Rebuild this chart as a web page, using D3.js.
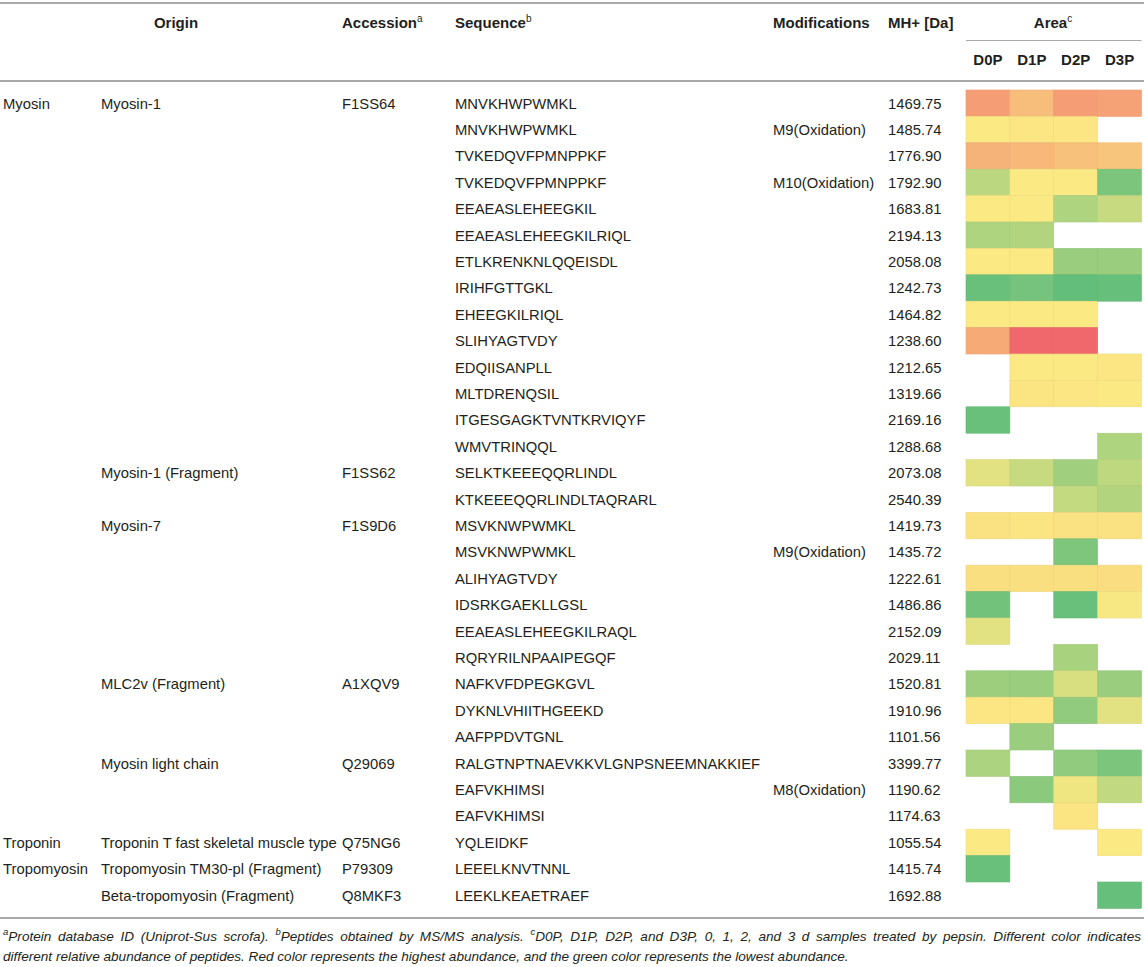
<!DOCTYPE html>
<html>
<head>
<meta charset="utf-8">
<script src="https://cdn.jsdelivr.net/npm/d3@7"></script>
<style>
  body { margin: 0; background: #fff; }
  .tbl text { font-family: "Liberation Sans", Arial, sans-serif; fill: #231f20; }
  .note { position: absolute; left: 3px; width: 1138px;
    font-family: "Liberation Sans", Arial, sans-serif; font-style: italic;
    font-size: 13.6px; line-height: 20px; color: #231f20; white-space: nowrap; }
  .note.full { text-align: justify; text-align-last: justify; }
  .note sup { font-size: 9.5px; line-height: 0; }
</style>
</head>
<body>
<script>
// one entry per peptide row, "" where the cell is empty
const groups = ["Myosin", "", "", "", "", "", "", "", "", "", "", "", "", "", "", "", "", "", "", "", "", "", "", "", "", "", "", "", "Troponin", "Tropomyosin", ""];
const proteins = ["Myosin-1", "", "", "", "", "", "", "", "", "", "", "", "", "", "Myosin-1 (Fragment)", "", "Myosin-7", "", "", "", "", "", "MLC2v (Fragment)", "", "", "Myosin light chain", "", "", "Troponin T fast skeletal muscle type", "Tropomyosin TM30-pl (Fragment)", "Beta-tropomyosin (Fragment)"];
const accessions = ["F1SS64", "", "", "", "", "", "", "", "", "", "", "", "", "", "F1SS62", "", "F1S9D6", "", "", "", "", "", "A1XQV9", "", "", "Q29069", "", "", "Q75NG6", "P79309", "Q8MKF3"];
const sequences = ["MNVKHWPWMKL", "MNVKHWPWMKL", "TVKEDQVFPMNPPKF", "TVKEDQVFPMNPPKF", "EEAEASLEHEEGKIL", "EEAEASLEHEEGKILRIQL", "ETLKRENKNLQQEISDL", "IRIHFGTTGKL", "EHEEGKILRIQL", "SLIHYAGTVDY", "EDQIISANPLL", "MLTDRENQSIL", "ITGESGAGKTVNTKRVIQYF", "WMVTRINQQL", "SELKTKEEEQQRLINDL", "KTKEEEQQRLINDLTAQRARL", "MSVKNWPWMKL", "MSVKNWPWMKL", "ALIHYAGTVDY", "IDSRKGAEKLLGSL", "EEAEASLEHEEGKILRAQL", "RQRYRILNPAAIPEGQF", "NAFKVFDPEGKGVL", "DYKNLVHIITHGEEKD", "AAFPPDVTGNL", "RALGTNPTNAEVKKVLGNPSNEEMNAKKIEF", "EAFVKHIMSI", "EAFVKHIMSI", "YQLEIDKF", "LEEELKNVTNNL", "LEEKLKEAETRAEF"];
const modifications = ["", "M9(Oxidation)", "", "M10(Oxidation)", "", "", "", "", "", "", "", "", "", "", "", "", "", "M9(Oxidation)", "", "", "", "", "", "", "", "", "M8(Oxidation)", "", "", "", ""];
const masses = ["1469.75", "1485.74", "1776.90", "1792.90", "1683.81", "2194.13", "2058.08", "1242.73", "1464.82", "1238.60", "1212.65", "1319.66", "2169.16", "1288.68", "2073.08", "2540.39", "1419.73", "1435.72", "1222.61", "1486.86", "2152.09", "2029.11", "1520.81", "1910.96", "1101.56", "3399.77", "1190.62", "1174.63", "1055.54", "1415.74", "1692.88"];

// relative abundance (0 = lowest/green, 1 = highest/red), null = not found
const samples = ["D0P", "D1P", "D2P", "D3P"];
const d0p = [0.79, 0.50, 0.71, 0.29, 0.50, 0.25, 0.50, 0.02, 0.50, 0.74, null, null, 0.02, null, 0.42, null, 0.53, null, 0.54, 0.05, 0.42, null, 0.19, 0.51, null, 0.24, null, null, 0.50, 0.02, null];
const d1p = [0.67, 0.51, 0.69, 0.50, 0.50, 0.26, 0.50, 0.06, 0.50, 1.00, 0.50, 0.52, null, null, 0.33, null, 0.52, null, 0.54, null, null, null, 0.18, 0.51, 0.18, null, 0.13, null, null, null, null];
const d2p = [0.79, 0.51, 0.66, 0.50, 0.25, null, 0.18, 0.00, 0.50, 1.00, 0.50, 0.51, null, null, 0.20, 0.32, 0.53, 0.09, 0.54, 0.02, null, 0.23, 0.38, 0.15, null, 0.15, 0.46, 0.52, null, null, null];
const d3p = [0.77, null, 0.64, 0.08, 0.33, null, 0.18, 0.01, null, null, 0.51, 0.50, null, 0.25, 0.30, 0.26, 0.53, null, 0.55, 0.49, null, null, 0.18, 0.42, null, 0.08, 0.31, null, 0.50, null, 0.01];

const width = 1144, height = 967;
const areas = [d0p, d1p, d2p, d3p];

const svg = d3.create("svg")
    .attr("width", width)
    .attr("height", height)
    .attr("class", "tbl")
    .style("position", "absolute").style("left", 0).style("top", 0);

const y = d3.scaleBand().domain(d3.range(sequences.length)).range([90, 90 + 26.4 * sequences.length]);
const xs = d3.scaleBand().domain(samples).range([966, 1141.5]);
const color = d3.scaleLinear().domain([0, 0.5, 1]).range(["#63be7b", "#fbe983", "#f0686b"]);

// rules
const rule = (x1, x2, yy, w) => svg.append("line")
    .attr("x1", x1).attr("x2", x2).attr("y1", yy).attr("y2", yy)
    .attr("stroke", "#a9a9a9").attr("stroke-width", w);
rule(0, width, 3, 2);
rule(0, width, 81, 2);
rule(966, 1141.5, 40.5, 1.2);
rule(0, width, 918, 2);

// header
const head = svg.append("g").attr("font-weight", "bold").attr("font-size", 15);
const hcell = (x, txt, sup, anchor) => {
    const t = head.append("text").attr("x", x).attr("y", 28).attr("text-anchor", anchor || "start").text(txt);
    if (sup) t.append("tspan").attr("font-size", 10).attr("font-weight", "normal").attr("dy", -6).text(sup);
    return t;
};
hcell(176, "Origin", null, "middle");
hcell(342, "Accession", "a");
hcell(455, "Sequence", "b");
hcell(773, "Modifications");
hcell(888, "MH+ [Da]");
hcell(1053, "Area", "c", "middle");
head.selectAll(".smp").data(samples).join("text")
    .attr("class", "smp")
    .attr("x", d => xs(d) + xs.bandwidth() / 2)
    .attr("y", 65)
    .attr("text-anchor", "middle")
    .text(d => d);

// heat cells
samples.forEach((s, j) => {
    svg.append("g").selectAll("rect")
        .data(areas[j].map((v, i) => ({ v, i })).filter(d => d.v !== null))
        .join("rect")
        .attr("x", xs(s))
        .attr("y", d => y(d.i))
        .attr("width", xs.bandwidth())
        .attr("height", y.bandwidth())
        .attr("fill", d => color(d.v))
        .attr("stroke", d => d3.color(color(d.v)).darker(0.15))
        .attr("stroke-width", 0.6);
});

// body columns
const cols = [[3, groups], [101, proteins], [342, accessions], [455, sequences], [773, modifications], [888, masses]];
cols.forEach(([x, arr]) => {
    svg.append("g").attr("font-size", 14.8).selectAll("text")
        .data(arr.map((t, i) => ({ t, i })).filter(d => d.t !== ""))
        .join("text")
        .attr("x", x)
        .attr("y", d => y(d.i) + y.bandwidth() / 2)
        .attr("dy", "0.36em")
        .text(d => d.t);
});

d3.select("body").append(() => svg.node());

// footnote, first line justified to the full width
d3.select("body").append("div").attr("class", "note full").style("top", "927px")
    .html("<sup>a</sup>Protein database ID (Uniprot-Sus scrofa). <sup>b</sup>Peptides obtained by MS/MS analysis. <sup>c</sup>D0P, D1P, D2P, and D3P, 0, 1, 2, and 3 d samples treated by pepsin. Different color indicates");
d3.select("body").append("div").attr("class", "note").style("top", "947px")
    .text("different relative abundance of peptides. Red color represents the highest abundance, and the green color represents the lowest abundance.");
</script>
</body>
</html>
